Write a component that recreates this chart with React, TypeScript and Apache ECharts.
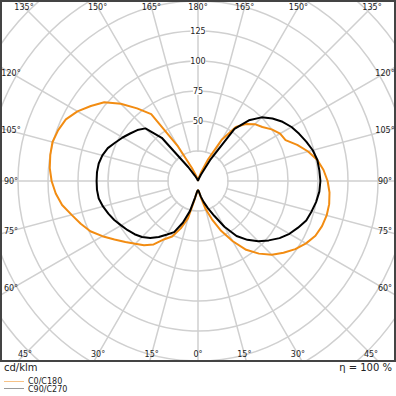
import React, { useEffect, useRef } from "react";
import * as echarts from "echarts";

// gamma angles (deg), 0 = nadir (down), 180 = zenith (up)
const gammas = [0,5,10,15,20,25,30,35,40,45,50,55,60,65,70,75,80,85,90,95,100,105,110,115,120,125,130,135,140,145,150,155,160,165,170,175,180];

// C0/C180 (orange): right half and left half, cd/klm
const c0Right = [7.5,9,14,24,34,46,58,70,79,87,93,99,104,108,110,111,111,110,108,105,101,95,88,80.5,79,75,70,67,62,55,40,20,8,3,1,0.5,0];
const c180Left = [7.5,9,15,32,42,51,56,64.5,70,74,79,85,92,99,104,109,115,119,122,124,125,125.5,124,121.5,116,109,102,91,79,68,33,12,5,2,1,0.5,0];

// C90/C270 (black)
const c90Right = [7.5,9,13,18,24,32,44,56,64,71,77,83,88,92,96,98,100,101.5,102,101.5,101,99,96,93,90,86,81,75,66,53,20,6,2,1,0.5,0,0];
const c270Left = [7.5,9,14,26,37,47,51.5,57,62,66,69,71.5,74,77,79.5,82,84,84.5,84.5,84.5,84,82.5,80,76,72.5,69,66,62,47,14,5,2,1,0.5,0,0,0];

const radialLabels = [50, 75, 100, 125];
const angleLabels = [0, 15, 30, 45, 60, 75, 90, 105, 120, 135, 150, 165, 180];
const seriesNames = ["C0/C180", "C90/C270"];

const CX = 198;
const CY = 181;
const FONT = "DejaVu Sans";

function buildCurve(right: number[], left: number[]) {
  const out: number[][] = [];
  for (let i = gammas.length - 1; i >= 0; i--) out.push([right[i], 180 - gammas[i]]);
  for (let i = 1; i < gammas.length; i++) out.push([left[i], 180 + gammas[i]]);
  return out;
}

function angleLabelGraphics() {
  const box = { x0: 11, x1: 385, y0: 7, y1: 354 };
  const els: any[] = [];
  angleLabels.forEach((g) => {
    const sides = g === 0 || g === 180 ? [1] : [-1, 1];
    sides.forEach((s) => {
      const rad = (g * Math.PI) / 180;
      const dx = s * Math.sin(rad);
      const dy = Math.cos(rad);
      let t = Infinity;
      if (dx > 1e-9) t = Math.min(t, (box.x1 - CX) / dx);
      if (dx < -1e-9) t = Math.min(t, (box.x0 - CX) / dx);
      if (dy > 1e-9) t = Math.min(t, (box.y1 - CY) / dy);
      if (dy < -1e-9) t = Math.min(t, (box.y0 - CY) / dy);
      els.push({
        type: "text",
        x: CX + t * dx,
        y: CY + t * dy,
        z: 12,
        silent: true,
        style: {
          text: g + "°",
          fontSize: 8,
          fontFamily: FONT,
          fill: "#222",
          align: "center",
          verticalAlign: "middle",
        },
      });
    });
  });
  return els;
}

export default function App() {
  const ref = useRef<HTMLDivElement>(null);
  useEffect(() => {
    if (!ref.current) return;
    const chart = echarts.init(ref.current, null, { renderer: "svg" });
    const grid = { color: "#d0d0d0", width: 1.5 };
    chart.setOption({
      animation: false,
      backgroundColor: "#fff",
      polar: { center: [CX, CY], radius: 300 },
      angleAxis: {
        type: "value",
        min: 0,
        max: 360,
        interval: 15,
        startAngle: 90,
        clockwise: true,
        axisLine: { show: false },
        axisTick: { show: false },
        axisLabel: { show: false },
        splitLine: { show: true, lineStyle: grid },
        z: 0,
      },
      radiusAxis: {
        type: "value",
        min: 0,
        max: 250,
        interval: 25,
        axisLine: { show: false },
        axisTick: { show: false },
        splitLine: { show: true, lineStyle: grid },
        axisLabel: {
          formatter: (v: number) => (radialLabels.includes(v) ? String(v) : ""),
          margin: 0,
          align: "center",
          verticalAlign: "middle",
          fontSize: 8,
          fontFamily: FONT,
          color: "#222",
          backgroundColor: "#fff",
        },
        z: 1,
      },
      series: [
        {
          name: seriesNames[0],
          type: "line",
          coordinateSystem: "polar",
          data: buildCurve(c0Right, c180Left),
          symbol: "none",
          lineStyle: { color: "#f28c12", width: 2 },
          z: 2,
        },
        {
          name: seriesNames[1],
          type: "line",
          coordinateSystem: "polar",
          data: buildCurve(c90Right, c270Left),
          symbol: "none",
          lineStyle: { color: "#000", width: 2 },
          z: 3,
        },
      ],
      graphic: [
        {
          type: "circle",
          shape: { cx: CX, cy: CY, r: 29 },
          style: { fill: "#fff" },
          z: 0.5,
          silent: true,
        },
        {
          type: "rect",
          shape: { x: 0, y: 362, width: 396, height: 34 },
          style: { fill: "#fff" },
          z: 10,
          silent: true,
        },
        {
          type: "rect",
          shape: { x: 1, y: 1, width: 394, height: 360 },
          style: { fill: "none", stroke: "#444", lineWidth: 2 },
          z: 11,
          silent: true,
        },
        ...angleLabelGraphics(),
        {
          type: "text",
          x: 4,
          y: 367,
          z: 12,
          style: { text: "cd/klm", fontSize: 10, fontFamily: FONT, fill: "#222", align: "left", verticalAlign: "middle" },
        },
        {
          type: "text",
          x: 392,
          y: 367,
          z: 12,
          style: { text: "η = 100 %", fontSize: 10, fontFamily: FONT, fill: "#222", align: "right", verticalAlign: "middle" },
        },
        {
          type: "line",
          shape: { x1: 4, y1: 381.5, x2: 24, y2: 381.5 },
          style: { stroke: "#f6c287", lineWidth: 1 },
          z: 12,
        },
        {
          type: "text",
          x: 28,
          y: 381.5,
          z: 12,
          style: { text: seriesNames[0], fontSize: 8, fontFamily: FONT, fill: "#222", align: "left", verticalAlign: "middle" },
        },
        {
          type: "line",
          shape: { x1: 4, y1: 388.5, x2: 24, y2: 388.5 },
          style: { stroke: "#999", lineWidth: 1 },
          z: 12,
        },
        {
          type: "text",
          x: 28,
          y: 389,
          z: 12,
          style: { text: seriesNames[1], fontSize: 8, fontFamily: FONT, fill: "#222", align: "left", verticalAlign: "middle" },
        },
      ],
    });
    return () => chart.dispose();
  }, []);
  return (
    <div style={{ position: "fixed", left: 0, top: 0, width: 396, height: 396, overflow: "hidden", background: "#fff" }}>
      <div ref={ref} style={{ width: 396, height: 396 }} />
    </div>
  );
}
